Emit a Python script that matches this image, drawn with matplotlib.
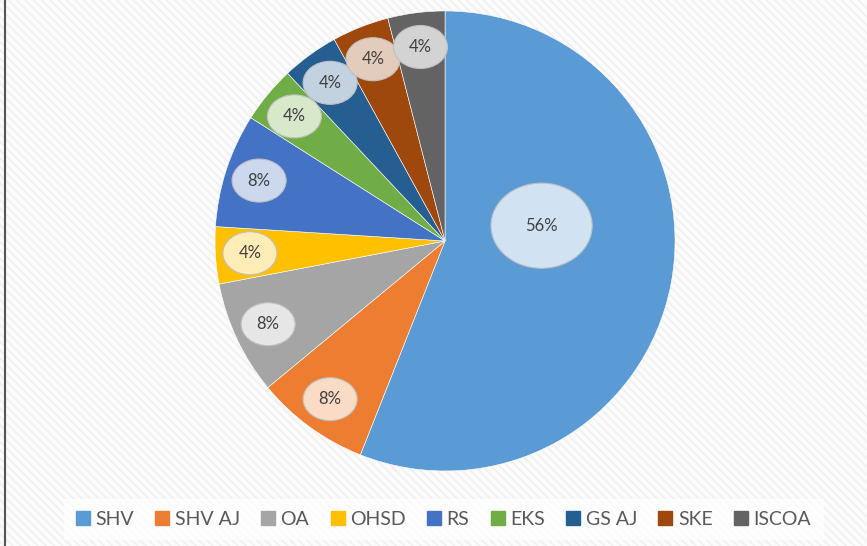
import numpy as np
import matplotlib.pyplot as plt
from matplotlib.patches import Ellipse, Rectangle
from matplotlib.lines import Line2D

plt.rcParams['font.family'] = ['Lato', 'DejaVu Sans']
plt.rcParams['hatch.linewidth'] = 1.2

categories = ['SHV', 'SHV AJ', 'OA', 'OHSD', 'RS', 'EKS', 'GS AJ', 'SKE', 'ISCOA']
counts = [14, 2, 2, 1, 2, 1, 1, 1, 1]
colors = ['#5B9BD5', '#ED7D31', '#A5A5A5', '#FFC000', '#4472C4',
          '#70AD47', '#255E91', '#9E480E', '#636363']


def tint(c, amount=0.72):
    rgb = np.array(plt.matplotlib.colors.to_rgb(c))
    return tuple(rgb + (1 - rgb) * amount)


fig = plt.figure(figsize=(8.67, 5.46), dpi=100)
fig.patch.set_facecolor('#fafafa')

# striped background
bg = fig.add_axes([0, 0, 1, 1], zorder=0)
bg.add_patch(Rectangle((0, 0), 1, 1, facecolor='#fbfbfb', edgecolor='#f0f0f0',
                       hatch='\\\\\\\\', lw=0))
bg.plot([0.006, 0.006], [0, 1], color='#555555', lw=1.5)
bg.set_xlim(0, 1)
bg.set_ylim(0, 1)
bg.axis('off')

ax = fig.add_axes([0.2480, 0.1374, 0.5306, 0.8425], zorder=1)
wedges, texts, autotexts = ax.pie(counts, colors=colors, startangle=90, counterclock=False,
                                  autopct='%1.0f%%', pctdistance=0.85, radius=1.0,
                                  wedgeprops=dict(edgecolor='white', linewidth=0.4),
                                  textprops=dict(color='#404040', fontsize=12))

# Excel moved the big label inwards
big_ang = np.deg2rad(9.0)
autotexts[0].set_position((0.425 * np.cos(big_ang), 0.425 * np.sin(big_ang)))

for i, t in enumerate(autotexts):
    x, y = t.get_position()
    w, h = (0.44, 0.37) if i == 0 else (0.235, 0.187)
    ax.add_patch(Ellipse((x, y), w, h, facecolor=tint(colors[i]),
                         edgecolor='#bfbfbf', lw=0.8, zorder=3))
    t.set_zorder(4)

ax.set_xlim(-1, 1)
ax.set_ylim(-1, 1)
ax.set_aspect('equal')

handles = [Line2D([0], [0], marker='s', linestyle='none', markersize=9.5,
                  markerfacecolor=c, markeredgecolor=c) for c in colors]
leg = fig.legend(handles, categories, loc='center', bbox_to_anchor=(0.5115, 0.049),
                 ncol=9, frameon=True, fontsize=14, handletextpad=0.3,
                 columnspacing=1.1, borderpad=0.6, handlelength=0.7,
                 labelcolor='#595959')
leg.get_frame().set_facecolor('white')
leg.get_frame().set_edgecolor('white')
leg.get_frame().set_boxstyle('square', pad=0)

fig.savefig('out.png', dpi=100, facecolor=fig.get_facecolor())
